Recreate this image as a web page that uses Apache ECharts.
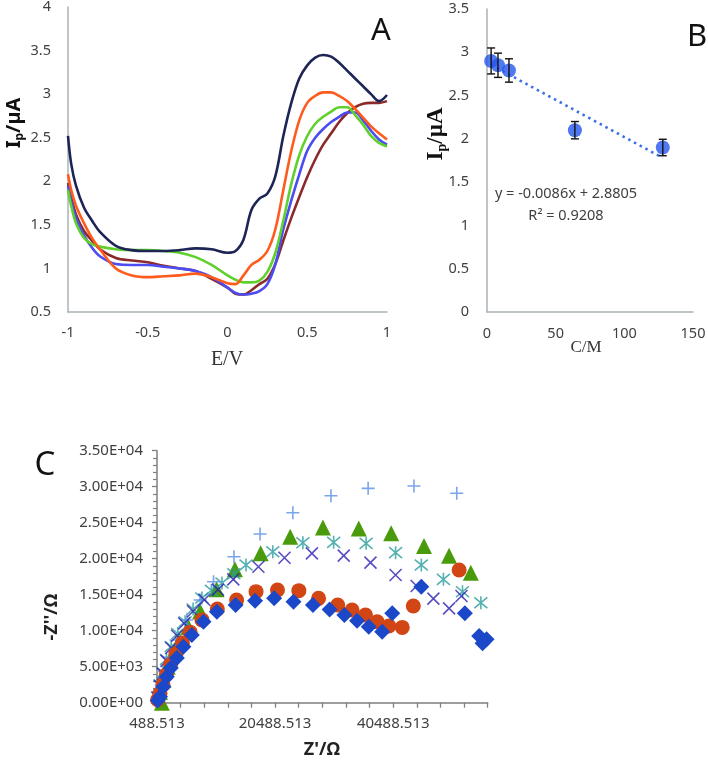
<!DOCTYPE html>
<html><head><meta charset="utf-8">
<script src="https://cdn.jsdelivr.net/npm/echarts@6/dist/echarts.min.js"></script>
<style>html,body{margin:0;padding:0;background:#fff}#c{width:708px;height:762px}</style>
</head><body><div id="c"></div>
<script>
// ---------- Panel A: voltammograms ----------
const potentialE = [-1,-0.98,-0.95,-0.9,-0.85,-0.8,-0.7,-0.6,-0.5,-0.4,-0.3,-0.2,-0.1,0,0.05,0.1,0.15,0.2,0.25,0.3,0.35,0.4,0.45,0.5,0.55,0.6,0.65,0.7,0.75,0.8,0.85,0.9,0.95,1];
const currentNavy   = [2.52,2.2,1.95,1.70,1.55,1.42,1.26,1.21,1.20,1.20,1.21,1.23,1.22,1.18,1.20,1.33,1.67,1.80,1.86,2.06,2.52,2.90,3.18,3.33,3.42,3.45,3.43,3.36,3.27,3.18,3.09,3.00,2.92,2.99];
const currentOrange = [2.08,1.90,1.72,1.52,1.35,1.22,1.00,0.92,0.90,0.91,0.92,0.94,0.90,0.83,0.82,0.92,1.04,1.10,1.20,1.45,1.90,2.35,2.70,2.90,2.98,3.02,3.02,2.98,2.92,2.83,2.73,2.63,2.55,2.48];
const currentGreen  = [1.90,1.72,1.52,1.35,1.28,1.25,1.22,1.21,1.21,1.20,1.18,1.13,1.04,0.92,0.87,0.84,0.84,0.86,0.96,1.18,1.55,1.97,2.30,2.52,2.66,2.74,2.80,2.85,2.85,2.76,2.65,2.52,2.44,2.40];
const currentBlue   = [1.95,1.78,1.58,1.38,1.24,1.14,1.05,1.04,1.04,1.02,1.00,0.97,0.90,0.78,0.72,0.70,0.71,0.74,0.82,1.05,1.45,1.78,2.08,2.35,2.50,2.60,2.68,2.74,2.79,2.79,2.70,2.58,2.48,2.42];
const currentBrown  = [1.98,1.82,1.62,1.43,1.32,1.22,1.12,1.09,1.07,1.03,1.00,0.97,0.88,0.78,0.71,0.70,0.75,0.82,0.88,1.05,1.32,1.58,1.82,2.05,2.25,2.42,2.55,2.68,2.78,2.85,2.89,2.90,2.90,2.92];

// ---------- Panel B: calibration ----------
const concB = [3, 8, 16, 64, 128];
const peakB = [2.90, 2.85, 2.79, 2.10, 1.90];
const errB  = [0.15, 0.14, 0.135, 0.10, 0.095];
const trendX = [3, 128];
const trendY = [2.855, 1.78];
const eqText = 'y = -0.0086x + 2.8805';
const r2Text = 'R² = 0.9208';

// ---------- Panel C: Nyquist ----------
const plusRe  = [700,1200,1800,2600,3700,5540,7790,10060,13520,17940,23490,29950,36240,44000,51250];
const plusIm  = [700,2400,4300,6300,8700,11490,14260,16800,20280,23430,26390,28750,29770,30100,29080];
const triRe   = [1300,1000,1600,2300,3200,4300,5800,7800,10570,13690,18050,23040,28590,34650,40150,45700,49950,53630];
const triIm   = [0,1500,3200,5000,6800,8600,10500,12700,15740,18520,20740,23060,24350,24210,23520,21760,20420,18060];
const starRe  = [600,1000,1500,2100,2900,4000,5250,6600,8080,9700,11490,13500,15560,20090,25190,30400,35900,40890,45250,48990,52220,55330];
const starIm  = [800,2500,4200,6000,7800,9600,11250,13000,14540,15600,16620,17900,19120,20970,22220,22270,22130,20840,19120,17130,15420,13890];
const crossRe = [600,1000,1500,2100,2900,3900,5100,6600,8500,10800,13410,17660,22080,26720,32110,36640,40890,44460,47290,49950,52050];
const crossIm = [700,2300,4000,5800,7600,9300,11000,12700,14300,15700,17130,18890,20140,20740,20420,19450,17730,16210,14450,13100,14820];
const circRe  = [600,1000,1500,2100,2800,3700,4800,6100,8100,10700,13970,17260,20890,24510,27850,31090,33520,35790,37770,39750,42020,43890,51650];
const circIm  = [400,1300,2500,3900,5300,6800,8300,9800,11500,13000,14260,15420,15650,15560,14490,13570,12870,12180,11250,10650,10460,13430,18430];
const diamRe  = [600,1000,1560,2140,2820,3840,4960,6380,8360,10630,13800,17090,20320,23600,26890,29720,32220,34370,36350,38620,40320,45250,52620,55050,55620,56300];
const diamIm  = [300,833,2220,3610,4820,6210,7780,9400,11250,12640,13570,14170,14490,14030,13570,12960,12180,11390,10560,9860,12410,16110,12410,9260,8240,8800];
const cTickValues = [488.513,4488.513,8488.513,12488.513,16488.513,20488.513,24488.513,28488.513,32488.513,36488.513,40488.513,44488.513,48488.513,52488.513,56488.513];
const cLabelValues = [488.513,20488.513,40488.513];

const zip = (a, b) => a.map((v, i) => [v, b[i]]);
const SANS = 'Noto Sans';
const SERIF = 'Liberation Serif';
const labelColor = '#404040';

const chart = echarts.init(document.getElementById('c'), null, {renderer: 'canvas'});

function sciFmt(v) {
  if (v === 0) return '0.00E+00';
  const e = Math.floor(Math.log10(Math.abs(v)) + 1e-9);
  const m = v / Math.pow(10, e);
  return m.toFixed(2) + 'E' + (e < 0 ? '-' : '+') + String(Math.abs(e)).padStart(2, '0');
}

const lineA = (data, color) => ({
  type: 'line', xAxisIndex: 0, yAxisIndex: 0, data: zip(potentialE, data),
  showSymbol: false, smooth: 0.35, lineStyle: {color, width: 2.6}, itemStyle: {color}, silent: true
});

const scatC = (re, im, symbol, size, color, stroke) => ({
  type: 'scatter', xAxisIndex: 2, yAxisIndex: 2, data: zip(re, im), symbol, symbolSize: size, clip: false,
  itemStyle: stroke ? {color: 'none', borderColor: color, borderWidth: 1.6} : {color, opacity: 1}, silent: true
});

const option = {
  animation: false,
  backgroundColor: '#fff',
  grid: [
    {left: 68, top: 7, width: 319, height: 305, outerBoundsMode: 'none', containLabel: false},
    {left: 487, top: 9, width: 206, height: 303, outerBoundsMode: 'none', containLabel: false},
    {left: 157, top: 450.7, width: 330.7, height: 252, outerBoundsMode: 'none', containLabel: false}
  ],
  xAxis: [
    {gridIndex: 0, type: 'value', min: -1, max: 1, interval: 0.5,
     axisLine: {onZero: false, lineStyle: {color: '#a9b3b7', width: 1.5}}, axisTick: {show: false},
     axisLabel: {color: labelColor, fontFamily: SANS, fontSize: 14.5, margin: 13}, splitLine: {show: false}},
    {gridIndex: 1, type: 'value', min: 0, max: 150, interval: 50,
     axisLine: {onZero: false, lineStyle: {color: '#a9b3b7', width: 1.5}}, axisTick: {show: false},
     axisLabel: {color: labelColor, fontFamily: SANS, fontSize: 14.5, margin: 14}, splitLine: {show: false}},
    {gridIndex: 2, type: 'value', min: 488.513, max: 56488.513,
     axisLine: {onZero: false, lineStyle: {color: '#7f7f7f', width: 1.5}},
     axisTick: {show: true, customValues: cTickValues, length: 5, lineStyle: {color: '#7f7f7f', width: 1.3}},
     axisLabel: {customValues: cLabelValues, formatter: v => Number(v).toFixed(3), color: labelColor, fontFamily: SANS, fontSize: 15, margin: 14},
     splitLine: {show: false}}
  ],
  yAxis: [
    {gridIndex: 0, type: 'value', min: 0.5, max: 4, interval: 0.5,
     axisLine: {show: true, onZero: false, lineStyle: {color: '#a9b3b7', width: 1.5}}, axisTick: {show: false},
     axisLabel: {color: labelColor, fontFamily: SANS, fontSize: 14.5, margin: 17}, splitLine: {show: false}},
    {gridIndex: 1, type: 'value', min: 0, max: 3.5, interval: 0.5,
     axisLine: {show: true, onZero: false, lineStyle: {color: '#a9b3b7', width: 1.5}}, axisTick: {show: false},
     axisLabel: {color: labelColor, fontFamily: SANS, fontSize: 14.5, margin: 18}, splitLine: {show: false}},
    {gridIndex: 2, type: 'value', min: 0, max: 35000, interval: 5000,
     axisLine: {show: true, onZero: false, lineStyle: {color: '#7f7f7f', width: 1.5}},
     axisTick: {show: true, length: 5, lineStyle: {color: '#7f7f7f', width: 1.3}},
     minorTick: {show: true, splitNumber: 5, length: 4, lineStyle: {color: '#7f7f7f', width: 1.2}},
     axisLabel: {formatter: sciFmt, color: labelColor, fontFamily: SANS, fontSize: 15, margin: 14},
     splitLine: {show: false}}
  ],
  series: [
    lineA(currentBrown, '#8b2a2a'),
    lineA(currentBlue, '#4b4cf2'),
    lineA(currentGreen, '#5fd02c'),
    lineA(currentOrange, '#ff5b1c'),
    lineA(currentNavy, '#1d2557'),
    {type: 'line', xAxisIndex: 1, yAxisIndex: 1, data: zip(trendX, trendY), showSymbol: false,
     lineStyle: {color: '#3a6fe6', width: 2.6, type: [2.5, 4]}, silent: true, z: 1},
    {type: 'custom', xAxisIndex: 1, yAxisIndex: 1, data: concB.map((c, i) => [c, peakB[i], errB[i]]), silent: true, z: 3,
     renderItem: (params, api) => {
       const x = api.value(0), y = api.value(1), e = api.value(2);
       const t = api.coord([x, y + e]), b = api.coord([x, y - e]);
       const w = 4, st = {stroke: '#111', lineWidth: 1.4};
       return {type: 'group', children: [
         {type: 'line', shape: {x1: t[0], y1: t[1], x2: b[0], y2: b[1]}, style: st},
         {type: 'line', shape: {x1: t[0] - w, y1: t[1], x2: t[0] + w, y2: t[1]}, style: st},
         {type: 'line', shape: {x1: b[0] - w, y1: b[1], x2: b[0] + w, y2: b[1]}, style: st}
       ]};
     }},
    {type: 'scatter', xAxisIndex: 1, yAxisIndex: 1, data: zip(concB, peakB), symbol: 'circle', symbolSize: 14,
     itemStyle: {color: '#2456ee'}, silent: true, z: 2},
    scatC(triRe, triIm, 'triangle', 16, '#4a9b0c', false),
    scatC(starRe, starIm, 'path://M0,0L10,10M10,0L0,10M5,-1L5,11', 13, '#2a9c9c', true),
    scatC(plusRe, plusIm, 'path://M0,5L10,5M5,0L5,10', 13, '#5a8fe6', true),
    scatC(crossRe, crossIm, 'path://M0,0L10,10M10,0L0,10', 12, '#2e20b2', true),
    scatC(circRe, circIm, 'circle', 15, '#d14614', false),
    scatC(diamRe, diamIm, 'diamond', 16, '#1b48c9', false)
  ],
  graphic: [
    {type: 'text', x: 381, y: 31, style: {text: 'A', font: '31px "Noto Sans"', fill: '#111', align: 'center', verticalAlign: 'middle'}},
    {type: 'text', x: 697, y: 37, style: {text: 'B', font: '31px "Noto Sans"', fill: '#111', align: 'center', verticalAlign: 'middle'}},
    {type: 'text', x: 45, y: 466, style: {text: 'C', font: '33px "Noto Sans"', fill: '#111', align: 'center', verticalAlign: 'middle'}},
    {type: 'text', x: 15, y: 123, rotation: Math.PI / 2,
     style: {text: '{a|I}{b|p}{a|/µA}', align: 'center', verticalAlign: 'middle', fill: '#111',
       rich: {a: {fontFamily: SANS, fontSize: 20, fontWeight: 'bold', verticalAlign: 'top', fill: '#111'},
              b: {fontFamily: SANS, fontSize: 12, fontWeight: 'bold', verticalAlign: 'top', padding: [9, 0, 0, 0], fill: '#111'}}}},
    {type: 'text', x: 437, y: 134, rotation: Math.PI / 2,
     style: {text: '{a|I}{b|p}{a|/µA}', align: 'center', verticalAlign: 'middle', fill: '#111',
       rich: {a: {fontFamily: SERIF, fontSize: 23, fontWeight: 'bold', verticalAlign: 'top', fill: '#111'},
              b: {fontFamily: SERIF, fontSize: 14, fontWeight: 'bold', verticalAlign: 'top', padding: [11, 0, 0, 0], fill: '#111'}}}},
    {type: 'text', x: 227, y: 360, style: {text: 'E/V', font: '20px "Liberation Serif"', fill: '#333', align: 'center', verticalAlign: 'middle'}},
    {type: 'text', x: 586, y: 348, style: {text: 'C/M', font: '17px "Liberation Serif"', fill: '#333', align: 'center', verticalAlign: 'middle'}},
    {type: 'text', x: 566, y: 194, style: {text: eqText, font: '14.5px "Noto Sans"', fill: '#404040', align: 'center', verticalAlign: 'middle'}},
    {type: 'text', x: 566, y: 216, style: {text: r2Text, font: '14.5px "Noto Sans"', fill: '#404040', align: 'center', verticalAlign: 'middle'}},
    {type: 'text', x: 322, y: 750, style: {text: "Z'/Ω", font: 'bold 18px "Noto Sans"', fill: '#222', align: 'center', verticalAlign: 'middle'}},
    {type: 'text', x: 52, y: 617, rotation: Math.PI / 2, style: {text: "-Z''/Ω", font: 'bold 18px "Noto Sans"', fill: '#222', align: 'center', verticalAlign: 'middle'}}
  ]
};
chart.setOption(option);
</script>
</body></html>
